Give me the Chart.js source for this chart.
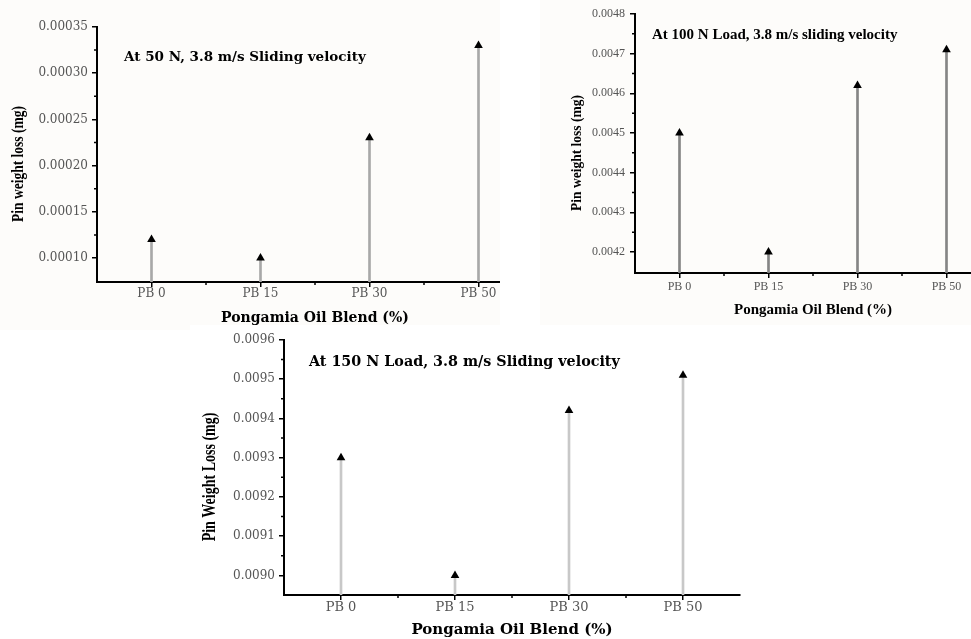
<!DOCTYPE html>
<html lang="en">
<head>
  <meta charset="UTF-8" />
  <title>Pin weight loss vs Pongamia oil blend</title>
  <script src="https://cdn.jsdelivr.net/npm/chart.js"></script>
  <style>
    html, body {
      margin: 0;
      padding: 0;
      background: #fff;
      overflow: hidden;
    }
    .panel {
      position: absolute;
      overflow: hidden;
      background: #fdfcfa;
    }
    canvas {
      display: block;
    }
  </style>
</head>
<body>
  <div class="panel" style="left:0;top:0;width:500px;height:330px">
    <canvas id="c50" width="540" height="330"></canvas>
  </div>
  <div class="panel" style="left:540px;top:0;width:431px;height:325px">
    <canvas id="c100" width="460" height="330"></canvas>
  </div>
  <div class="panel" style="left:190px;top:325px;width:781px;height:314px;background:#fff">
    <canvas id="c150" width="560" height="314"></canvas>
  </div>

  <script>
    const categories = ['PB 0', 'PB 15', 'PB 30', 'PB 50'];

    const loss50 = [0.00012, 0.00010, 0.00023, 0.00033];
    const loss100 = [0.0045, 0.0042, 0.00462, 0.00471];
    const loss150 = [0.0093, 0.0090, 0.00942, 0.00951];

    const ticks50 = [0.00010, 0.00015, 0.00020, 0.00025, 0.00030, 0.00035];
    const ticks100 = [0.0042, 0.0043, 0.0044, 0.0045, 0.0046, 0.0047, 0.0048];
    const ticks150 = [0.0090, 0.0091, 0.0092, 0.0093, 0.0094, 0.0095, 0.0096];

    // minor ticks between the majors + heading and rotated y title
    const panelDecor = {
      id: 'panelDecor',
      afterDraw(chart, args, opts) {
        const ctx = chart.ctx;
        const xs = chart.scales.x, ys = chart.scales.y;
        ctx.save();
        ctx.strokeStyle = '#000';
        ctx.lineWidth = 1.5;
        ctx.beginPath();
        for (let i = 0; i < ys.ticks.length - 1; i++) {
          const y = (ys.getPixelForValue(ys.ticks[i].value) + ys.getPixelForValue(ys.ticks[i + 1].value)) / 2;
          ctx.moveTo(ys.right - 3, y);
          ctx.lineTo(ys.right, y);
        }
        for (let i = 0; i < categories.length - 1; i++) {
          const x = (xs.getPixelForValue(i) + xs.getPixelForValue(i + 1)) / 2;
          ctx.moveTo(x, xs.top);
          ctx.lineTo(x, xs.top + 3);
        }
        ctx.stroke();

        ctx.fillStyle = '#000';
        ctx.textBaseline = 'middle';
        ctx.textAlign = 'left';
        ctx.font = opts.headingFont;
        ctx.fillText(opts.heading, opts.headingX, opts.headingY);

        ctx.translate(opts.yTitleX, opts.yTitleY);
        ctx.rotate(-Math.PI / 2);
        ctx.scale(1, opts.yTitleStretch);
        ctx.textAlign = 'center';
        ctx.font = opts.yTitleFont;
        ctx.fillText(opts.yTitle, 0, 0);
        ctx.restore();
      }
    };

    function makeChart(id, p) {
      return new Chart(document.getElementById(id), {
        data: {
          labels: categories,
          datasets: [
            {
              type: 'line',
              data: p.values,
              showLine: false,
              pointStyle: 'triangle',
              pointRadius: 5,
              pointBackgroundColor: '#000',
              pointBorderColor: '#000',
              pointBorderWidth: 0,
              order: 0
            },
            {
              type: 'bar',
              data: p.values,
              backgroundColor: p.stemColor,
              barThickness: 2,
              clip: 0,
              order: 1
            }
          ]
        },
        options: {
          responsive: false,
          animation: false,
          devicePixelRatio: 1,
          layout: { padding: p.padding },
          plugins: {
            legend: { display: false },
            tooltip: { enabled: false },
            panelDecor: {
              heading: p.heading,
              headingFont: p.headingFont,
              headingX: p.headingX,
              headingY: p.headingY,
              yTitle: p.yTitle,
              yTitleFont: p.yTitleFont,
              yTitleX: p.yTitleX,
              yTitleY: p.yTitleY,
              yTitleStretch: p.yTitleStretch
            }
          },
          scales: {
            x: {
              type: 'category',
              offset: true,
              afterFit: s => { s.height = p.xHeight; },
              grid: {
                offset: false,
                drawOnChartArea: false,
                color: '#000',
                tickLength: 5,
                lineWidth: 1.5
              },
              border: { color: '#000', width: 2 },
              ticks: {
                color: '#555',
                font: { family: p.tickFamily, size: p.xTickSize },
                padding: p.xTickPad,
                maxRotation: 0,
                autoSkip: false
              },
              title: {
                display: true,
                text: 'Pongamia Oil Blend (%)',
                color: '#000',
                font: { family: p.xTitleFamily, size: p.xTitleSize, weight: 'bold' },
                padding: { top: 0, bottom: p.xTitlePad }
              }
            },
            y: {
              type: 'linear',
              min: p.yMin,
              max: p.yMax,
              afterFit: s => { s.width = p.yWidth; },
              afterBuildTicks: s => { s.ticks = p.ticks.map(v => ({ value: v })); },
              grid: {
                drawOnChartArea: false,
                color: '#000',
                tickLength: 5,
                lineWidth: 1.5
              },
              border: { color: '#000', width: 2 },
              ticks: {
                color: '#555',
                font: { family: p.tickFamily, size: 12 },
                padding: p.yTickPad,
                callback: v => v.toFixed(p.decimals)
              }
            }
          }
        },
        plugins: [panelDecor]
      });
    }

    makeChart('c50', {
      values: loss50, ticks: ticks50, yMin: 0.000074, yMax: 0.00035, decimals: 5,
      stemColor: '#a8a8a8',
      padding: { top: 27, right: 7, bottom: 0, left: 0 },
      yWidth: 97, xHeight: 48,
      tickFamily: 'DejaVu Serif', xTickSize: 12, xTickPad: 0, yTickPad: 4,
      xTitleFamily: 'DejaVu Serif', xTitleSize: 14, xTitlePad: 3,
      heading: 'At 50 N, 3.8 m/s Sliding velocity',
      headingFont: 'bold 13.5px "DejaVu Serif"', headingX: 124, headingY: 57,
      yTitle: 'Pin weight loss (mg)',
      yTitleFont: 'bold 13.5px "Liberation Serif"', yTitleX: 18, yTitleY: 164, yTitleStretch: 1.3
    });

    makeChart('c100', {
      values: loss100, ticks: ticks100, yMin: 0.004147, yMax: 0.0048, decimals: 4,
      stemColor: '#858585',
      padding: { top: 14, right: 9, bottom: 0, left: 0 },
      yWidth: 95, xHeight: 57,
      tickFamily: 'Liberation Serif', xTickSize: 12, xTickPad: 2, yTickPad: 5,
      xTitleFamily: 'Liberation Serif', xTitleSize: 15, xTitlePad: 11,
      heading: 'At 100 N Load, 3.8 m/s sliding velocity',
      headingFont: 'bold 15px "Liberation Serif"', headingX: 112, headingY: 35,
      yTitle: 'Pin weight loss (mg)',
      yTitleFont: 'bold 13.5px "Liberation Serif"', yTitleX: 37, yTitleY: 153, yTitleStretch: 1.15
    });

    makeChart('c150', {
      values: loss150, ticks: ticks150, yMin: 0.00895, yMax: 0.0096, decimals: 4,
      stemColor: '#c8c8c8',
      padding: { top: 15, right: 10, bottom: 0, left: 0 },
      yWidth: 94, xHeight: 44,
      tickFamily: 'DejaVu Serif', xTickSize: 13, xTickPad: 0, yTickPad: 4,
      xTitleFamily: 'DejaVu Serif', xTitleSize: 15, xTitlePad: 0,
      heading: 'At 150 N Load, 3.8 m/s Sliding velocity',
      headingFont: 'bold 14.3px "DejaVu Serif"', headingX: 119, headingY: 37,
      yTitle: 'Pin Weight Loss (mg)',
      yTitleFont: 'bold 14px "Liberation Serif"', yTitleX: 20, yTitleY: 152, yTitleStretch: 1.3
    });
  </script>
</body>
</html>
